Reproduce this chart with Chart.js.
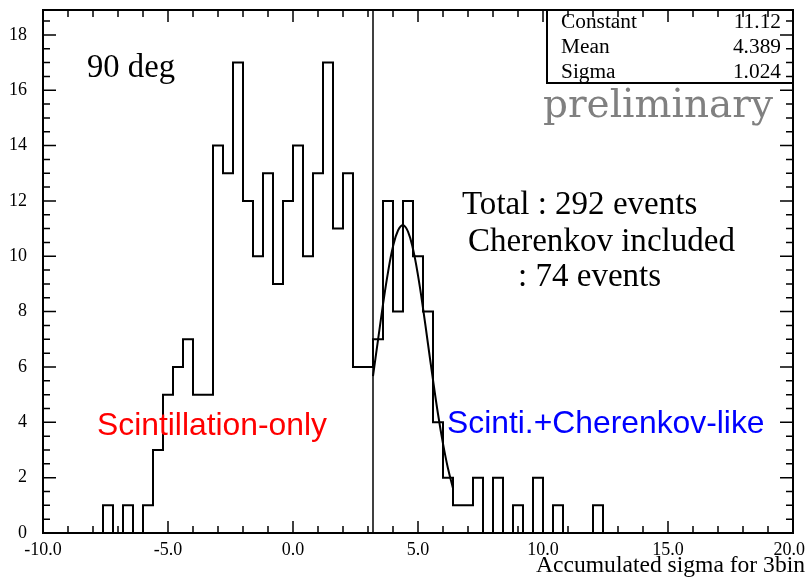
<!DOCTYPE html>
<html>
<head>
<meta charset="utf-8">
<title>Accumulated sigma for 3bin</title>
<script src="https://cdn.jsdelivr.net/npm/chart.js@4.4.1/dist/chart.umd.min.js"></script>
<style>
  html, body { margin: 0; padding: 0; background: #fff; }
  #wrap { width: 806px; height: 580px; }
</style>
</head>
<body>
<div id="wrap"><canvas id="histChart" width="806" height="580"></canvas></div>
<script>
// histogram bins (0.4 wide) starting at -7.6, counts
const binStart = -7.6;
const binWidth = 0.4;
const counts = [1, 0, 1, 0, 1, 3, 5, 6, 7, 5, 5,
    14, 13, 17, 12, 10, 13, 9, 12, 14, 10, 13, 17, 11, 13, 6, 6,
    7, 12, 8, 12, 10, 8, 4, 2, 1, 1, 2, 0, 2, 0, 1, 0, 2, 0, 1, 0, 0, 0, 1];

// gaussian fit curve
const fitX = [3.2, 3.4, 3.6, 3.8, 4.0, 4.2, 4.4, 4.6, 4.8, 5.0, 5.2, 5.4, 5.6, 5.8, 6.0, 6.2, 6.4];
const fitY = [5.67, 6.97, 8.26, 9.42, 10.35, 10.93, 11.12, 10.89, 10.26, 9.31, 8.13, 6.83, 5.53, 4.30, 3.23, 2.33, 1.62];

// cut between the two populations
const cutX = 3.2;

// axes
const xMin = -10, xMax = 20, yMax = 18.9;
const xTickValues = [-10, -5, 0, 5, 10, 15, 20];
const xTickLabels = ['-10.0', '-5.0', '0.0', '5.0', '10.0', '15.0', '20.0'];
const yTickValues = [0, 2, 4, 6, 8, 10, 12, 14, 16, 18];

// fit stats box
const statNames = ['Constant', 'Mean', 'Sigma'];
const statValues = ['11.12', '4.389', '1.024'];

const SERIF = '"Liberation Serif", "Times New Roman", serif';
const WIDE_SERIF = '"DejaVu Serif", serif';
const SANS = '"Liberation Sans", Arial, sans-serif';

// font size that makes text span a given width
function fitSize(ctx, text, family, width) {
    ctx.font = '100px ' + family;
    return 100 * width / ctx.measureText(text).width;
}

function drawText(ctx, text, x, y, size, family, color, align) {
    ctx.font = size.toFixed(2) + 'px ' + family;
    ctx.fillStyle = color;
    ctx.textAlign = align || 'left';
    ctx.textBaseline = 'alphabetic';
    ctx.fillText(text, x, y);
}

const decorations = {
    id: 'decorations',
    afterDraw(chart) {
        const ctx = chart.ctx;
        const area = chart.chartArea;
        const xs = chart.scales.x;
        const ys = chart.scales.y;
        ctx.save();

        // stats box
        ctx.fillStyle = '#fff';
        ctx.fillRect(547, area.top, area.right - 547, 73);
        ctx.strokeStyle = '#000';
        ctx.lineWidth = 2;
        ctx.strokeRect(547, area.top, area.right - 547, 73);
        const statSize = fitSize(ctx, 'Constant', SERIF, 76);
        statNames.forEach((name, i) => {
            const y = 28 + i * 25;
            drawText(ctx, name, 561, y, statSize, SERIF, '#000', 'left');
            drawText(ctx, statValues[i], 781, y, statSize, SERIF, '#000', 'right');
        });

        // frame
        ctx.strokeStyle = '#000';
        ctx.lineWidth = 2;
        ctx.strokeRect(area.left, area.top, area.right - area.left, area.bottom - area.top);

        // tick marks inside the frame, on all four sides
        ctx.lineWidth = 1.5;
        ctx.beginPath();
        for (let v = xMin; v <= xMax; v += 1) {
            const px = xs.getPixelForValue(v);
            const len = v % 5 === 0 ? 12 : 7;
            ctx.moveTo(px, area.bottom);
            ctx.lineTo(px, area.bottom - len);
            ctx.moveTo(px, area.top);
            ctx.lineTo(px, area.top + len);
        }
        for (let v = 0; v <= yMax; v += 0.5) {
            const py = ys.getPixelForValue(v);
            const len = v % 2 === 0 ? 13 : 7;
            ctx.moveTo(area.left, py);
            ctx.lineTo(area.left + len, py);
            ctx.moveTo(area.right, py);
            ctx.lineTo(area.right - len, py);
        }
        ctx.stroke();

        // x tick labels, the last one kept inside the canvas
        ctx.font = '18px ' + SERIF;
        xTickValues.forEach((v, i) => {
            const w = ctx.measureText(xTickLabels[i]).width;
            let cx = xs.getPixelForValue(v);
            cx = Math.min(cx, chart.width - 1 - w / 2);
            drawText(ctx, xTickLabels[i], cx, 555, 18, SERIF, '#000', 'center');
        });

        // x axis title
        const titleSize = fitSize(ctx, 'Accumulated sigma for 3bin', SERIF, 269);
        drawText(ctx, 'Accumulated sigma for 3bin', 805, 572, titleSize, SERIF, '#000', 'right');

        // annotations
        const degSize = fitSize(ctx, '90 deg', SERIF, 88);
        drawText(ctx, '90 deg', 87, 77, degSize, SERIF, '#000');

        const prelimSize = fitSize(ctx, 'preliminary', WIDE_SERIF, 230);
        drawText(ctx, 'preliminary', 543, 117, prelimSize, WIDE_SERIF, '#808080');

        const noteSize = fitSize(ctx, 'Cherenkov included', SERIF, 267);
        drawText(ctx, 'Total : 292 events', 462, 214, noteSize, SERIF, '#000');
        drawText(ctx, 'Cherenkov included', 468, 251, noteSize, SERIF, '#000');
        drawText(ctx, ': 74 events', 518, 286, noteSize, SERIF, '#000');

        const labelSize = fitSize(ctx, 'Scintillation-only', SANS, 230);
        drawText(ctx, 'Scintillation-only', 97, 435, labelSize, SANS, '#ff0000');
        drawText(ctx, 'Scinti.+Cherenkov-like', 447, 433, labelSize, SANS, '#0000ff');

        ctx.restore();
    }
};

function initHistChart() {
    const histPoints = [{ x: binStart, y: 0 }];
    counts.forEach((c, i) => histPoints.push({ x: binStart + i * binWidth, y: c }));
    histPoints.push({ x: binStart + counts.length * binWidth, y: 0 });

    const fitPoints = fitX.map((x, i) => ({ x: x, y: fitY[i] }));

    const ctx = document.getElementById('histChart').getContext('2d');
    return new Chart(ctx, {
        type: 'line',
        data: {
            datasets: [{
                label: 'histogram',
                data: histPoints,
                borderColor: '#000',
                borderWidth: 2,
                stepped: true,
                pointRadius: 0,
                fill: false
            }, {
                label: 'gaus fit',
                data: fitPoints,
                borderColor: '#000',
                borderWidth: 2,
                tension: 0.4,
                pointRadius: 0,
                fill: false
            }, {
                label: 'cut',
                data: [{ x: cutX, y: 0 }, { x: cutX, y: yMax }],
                borderColor: '#000',
                borderWidth: 1.5,
                pointRadius: 0,
                fill: false
            }]
        },
        options: {
            responsive: false,
            animation: false,
            events: [],
            layout: { padding: { top: 10, right: 13, left: 0, bottom: 0 } },
            plugins: {
                legend: { display: false },
                tooltip: { enabled: false }
            },
            scales: {
                x: {
                    type: 'linear',
                    min: xMin,
                    max: xMax,
                    grid: { display: false, drawTicks: false },
                    border: { display: false },
                    ticks: { display: false },
                    afterFit: s => { s.height = 47; s.paddingLeft = 0; s.paddingRight = 0; }
                },
                y: {
                    min: 0,
                    max: yMax,
                    grid: { display: false, drawTicks: false },
                    border: { display: false },
                    ticks: {
                        padding: 16,
                        color: '#000',
                        font: { family: SERIF, size: 18 }
                    },
                    afterBuildTicks: s => { s.ticks = yTickValues.map(v => ({ value: v })); },
                    afterFit: s => { s.width = 43; s.paddingTop = 0; s.paddingBottom = 0; }
                }
            }
        },
        plugins: [decorations]
    });
}

document.addEventListener('DOMContentLoaded', () => {
    initHistChart();
});
</script>
</body>
</html>
